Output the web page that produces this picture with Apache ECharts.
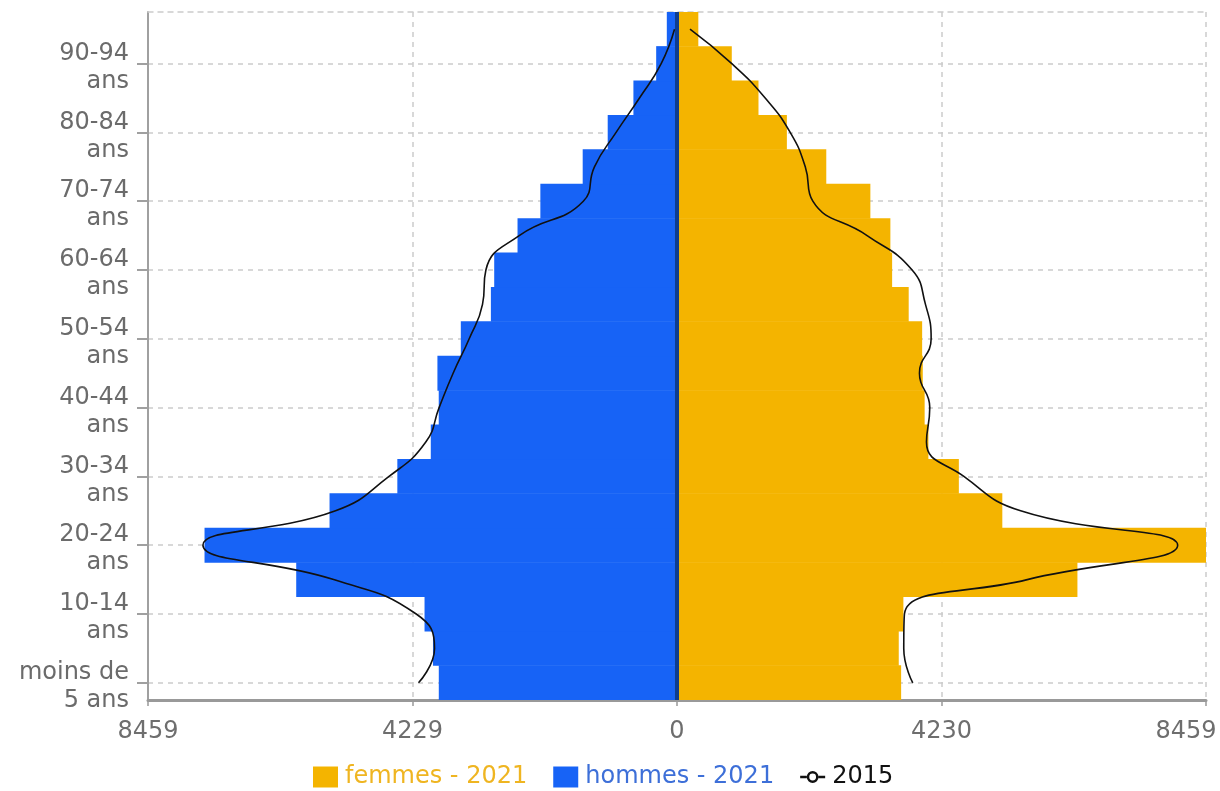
<!DOCTYPE html>
<html>
<head>
<meta charset="utf-8">
<script src="https://cdn.jsdelivr.net/npm/echarts@6/dist/echarts.min.js"></script>
<style>
  html, body { margin: 0; padding: 0; background: #ffffff; }
  #chart { width: 1220px; height: 791px; }
</style>
</head>
<body>
<div id="chart"></div>
<script>
// Age groups, bottom to top
const categories = [
  "moins de\n5 ans", "5-9\nans", "10-14\nans", "15-19\nans", "20-24\nans",
  "25-29\nans", "30-34\nans", "35-39\nans", "40-44\nans", "45-49\nans",
  "50-54\nans", "55-59\nans", "60-64\nans", "65-69\nans", "70-74\nans",
  "75-79\nans", "80-84\nans", "85-89\nans", "90-94\nans", "95 ans\net plus"
];
// 2021 populations (hommes shown to the left)
const femmes2021 = [3584, 3546, 3620, 6403, 8459, 5202, 4507, 4020, 3960, 3930,
                    3920, 3705, 3440, 3412, 3092, 2387, 1757, 1303, 876, 341];
const hommes2021 = [3809, 3902, 4037, 6089, 7555, 5556, 4472, 3937, 3810, 3831,
                    3457, 2976, 2923, 2550, 2185, 1508, 1108, 697, 333, 163];
// 2015 populations
const femmes2015 = [3770, 3626, 3637, 5600, 8006, 5495, 4587, 3989, 4042, 3877,
                    4064, 3973, 3760, 3040, 2172, 2051, 1810, 1410, 876, 208];
const hommes2015 = [4133, 3877, 4170, 5490, 7580, 5460, 4605, 4017, 3804, 3580,
                    3323, 3110, 3056, 2523, 1498, 1320, 974, 600, 253, 40];
// x axis extent and tick step
const xMax = 8459;
const xStep = xMax / 2;

const FONT = "'DejaVu Sans', 'Liberation Sans', Arial, sans-serif";
const GRID_COLOR = '#cccccc';
const FEM = '#f4b400';
const HOM = '#1763f6';
const LABEL_COLOR = '#6b6b6b';

// legend icon: line with open circle
const LINE_ICON = 'path://M0 8.2H6.6V10.8H0Z M18.4 8.2H25V10.8H18.4Z ' +
  'M6.6 9.5A5.9 5.9 0 1 1 18.4 9.5A5.9 5.9 0 1 1 6.6 9.5Z ' +
  'M9.1 9.5A3.4 3.4 0 1 0 15.9 9.5A3.4 3.4 0 1 0 9.1 9.5Z';

const chart = echarts.init(document.getElementById('chart'), null, { renderer: 'canvas' });

const option = {
  animation: false,
  backgroundColor: '#ffffff',
  textStyle: { fontFamily: FONT },
  grid: { left: 148, right: 14, top: 12, bottom: 91, containLabel: false, outerBoundsMode: 'none' },
  legend: {
    top: 765,
    left: 313,
    padding: 0,
    itemWidth: 25,
    itemHeight: 21,
    itemGap: 26,
    textStyle: { fontFamily: FONT, fontSize: 24, padding: [0, 0, 0, 2] },
    data: [
      { name: 'femmes - 2021', icon: 'rect', textStyle: { color: '#efb521' } },
      { name: 'hommes - 2021', icon: 'rect', textStyle: { color: '#3d6fd8' } },
      { name: '2015', icon: LINE_ICON, textStyle: { color: '#111111' } }
    ]
  },
  xAxis: [
    {
      type: 'value',
      min: -xMax,
      max: xMax,
      interval: xStep,
      axisLine: { show: true, onZero: false, lineStyle: { color: '#999999', width: 3 } },
      axisTick: { show: true, length: 6, lineStyle: { color: '#999999', width: 1.5 } },
      axisLabel: {
        color: '#6e6e6e',
        fontSize: 24,
        fontFamily: FONT,
        margin: 20,
        formatter: function (v) {
          const s = String(Math.abs(Math.round(v)));
          return v >= xMax - 1e-6 ? '{r|' + s + '}' : s;
        },
        rich: {
          r: { fontSize: 24, fontFamily: FONT, color: '#6e6e6e', padding: [0, 40, 0, 0] }
        }
      },
      splitLine: { show: true, lineStyle: { color: GRID_COLOR, type: [5, 5], width: 1.5 } }
    },
    {
      type: 'value',
      position: 'top',
      min: -xMax,
      max: xMax,
      interval: xStep,
      axisLine: { show: true, onZero: false, lineStyle: { color: GRID_COLOR, type: [5, 5], width: 1.5 } },
      axisTick: { show: false },
      axisLabel: { show: false },
      splitLine: { show: false }
    }
  ],
  yAxis: {
    type: 'category',
    data: categories,
    boundaryGap: true,
    axisLine: { show: true, onZero: false, lineStyle: { color: '#a0a0a0', width: 2 } },
    axisTick: { show: true, alignWithLabel: true, interval: 1, length: 11, lineStyle: { color: '#a0a0a0', width: 2 } },
    axisLabel: {
      interval: 1,
      color: LABEL_COLOR,
      fontSize: 24,
      fontFamily: FONT,
      align: 'right',
      margin: 19,
      formatter: function (v) {
        return '{s| }\n' + v.split('\n').map(function (l) { return '{t|' + l + '}'; }).join('\n');
      },
      rich: {
        s: { fontSize: 1, lineHeight: 8, height: 8 },
        t: { fontSize: 24, lineHeight: 28, fontFamily: FONT, color: LABEL_COLOR, align: 'right' }
      }
    },
    splitLine: {
      show: true,
      alignWithLabel: true,
      interval: 1,
      lineStyle: { color: GRID_COLOR, type: [5, 5], width: 1.5 }
    }
  },
  series: [
    {
      name: 'femmes - 2021',
      type: 'bar',
      data: femmes2021,
      barWidth: '101.5%',
      barGap: '-100%',
      barCategoryGap: '0%',
      itemStyle: { color: FEM },
      z: 2
    },
    {
      name: 'hommes - 2021',
      type: 'bar',
      data: hommes2021.map(v => -v),
      barWidth: '101.5%',
      barGap: '-100%',
      barCategoryGap: '0%',
      itemStyle: { color: HOM },
      z: 2,
      markLine: {
        silent: true,
        symbol: ['none', 'none'],
        label: { show: false },
        lineStyle: { color: '#0f3d8e', width: 4, type: 'solid' },
        data: [{ xAxis: 0 }],
        z: 5
      }
    },
    {
      name: '2015',
      type: 'line',
      data: femmes2015,
      smooth: 0.5,
      showSymbol: false,
      symbol: 'emptyCircle',
      symbolSize: 8,
      itemStyle: { color: '#111111' },
      lineStyle: { color: '#111111', width: 1.6 },
      z: 6
    },
    {
      name: '2015',
      type: 'line',
      data: hommes2015.map(v => -v),
      smooth: 0.5,
      showSymbol: false,
      symbol: 'emptyCircle',
      symbolSize: 8,
      itemStyle: { color: '#111111' },
      lineStyle: { color: '#111111', width: 1.6 },
      z: 6
    }
  ]
};

chart.setOption(option);
</script>
</body>
</html>
